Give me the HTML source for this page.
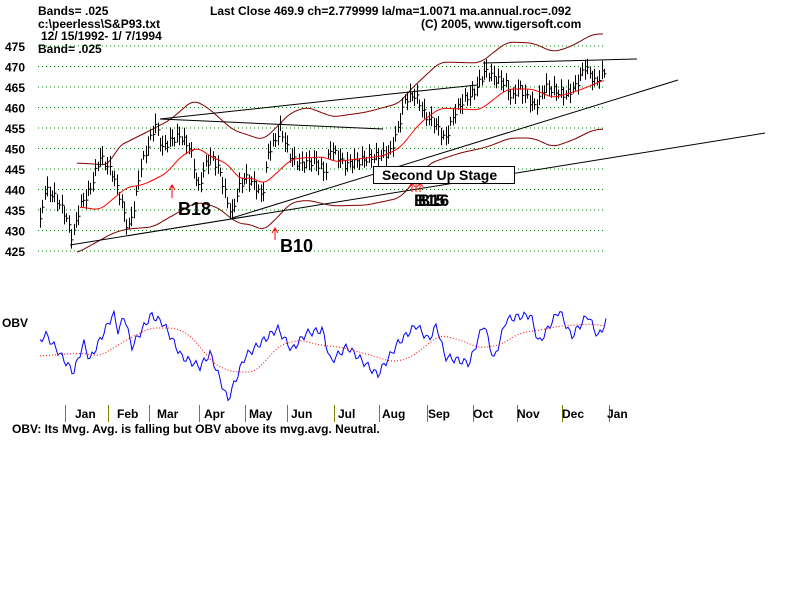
<!DOCTYPE html>
<html><head><meta charset="utf-8"><style>
html,body{margin:0;padding:0;background:#fff;width:800px;height:600px;overflow:hidden}
svg{display:block}
text{font-family:"Liberation Sans",sans-serif;font-weight:bold;fill:#000}
</style></head><body>
<svg id="s" width="800" height="600" xmlns="http://www.w3.org/2000/svg">
<g font-size="12">
<text x="38" y="15">Bands= .025</text>
<text x="210" y="15">Last Close 469.9 ch=2.779999  la/ma=1.0071 ma.annual.roc=.092</text>
<text x="38" y="28">c:\peerless\S&amp;P93.txt</text>
<text x="421" y="28">(C) 2005, www.tigersoft.com</text>
<text x="41" y="40">12/ 15/1992- 1/ 7/1994</text>
<text x="38" y="53">Band= .025</text>
</g>
<g id="grid"></g>
<g font-size="12" id="ylab"></g>
<g id="bands" fill="none" stroke="#800000" stroke-width="1"></g>
<g id="trend" stroke="#000" stroke-width="1"></g>
<g id="bars" stroke="#000" stroke-width="1"></g>
<g id="ma" fill="none" stroke="#f00" stroke-width="1"></g>
<g stroke="#f00" fill="none">
<path d="M172 198V185M169 190L172 185L175 190"/>
<path d="M275 240V228M272 233L275 228L278 233"/>
<path d="M412 192V183M416 192V183M420 192V183M409 187L412 183L415 187M417 187L420 183L423 187"/>
</g>
<text x="178" y="215" font-size="18">B18</text>
<text x="280" y="252" font-size="18">B10</text>
<text x="414" y="206" font-size="17">B15</text>
<text x="418" y="206" font-size="17">B16</text>
<rect x="373.5" y="166.5" width="141" height="17" fill="#fff" stroke="#000"/>
<text x="382" y="180" font-size="14" font-weight="normal">Second Up Stage</text>
<text x="2" y="327" font-size="12">OBV</text>
<g id="obv" fill="none"></g>
<g id="months" font-size="12"></g>
<text x="12" y="433" font-size="12">OBV: Its Mvg. Avg. is falling but OBV above its mvg.avg. Neutral.</text>
</svg>
<script>
var NS="http://www.w3.org/2000/svg";
function el(p,t,a,txt){var e=document.createElementNS(NS,t);for(var k in a)e.setAttribute(k,a[k]);if(txt!=null)e.textContent=txt;document.getElementById(p).appendChild(e);return e;}
function Y(p){return 46+(475-p)*4.1;}
for(var p=475;p>=425;p-=5){var y=Y(p);el("grid","line",{x1:38,x2:605,y1:y,y2:y,stroke:"#008000","stroke-dasharray":"1,3"});el("ylab","text",{x:5,y:y+5},String(p));}
function pl(g,pts,attrs){var d=pts.map(function(q){return q[0]+","+q[1]}).join(" ");attrs.points=d;el(g,"polyline",attrs);}
function smooth(a){var o=[];for(var x=a[0][0];x<=a[a.length-1][0];x+=2){var s=0,n=0;for(var k=-6;k<=6;k+=2){var xx=Math.min(Math.max(x+k,a[0][0]),a[a.length-1][0]);s+=interp(a,xx);n++;}o.push([x,(s/n).toFixed(1)]);}return o;}
function interp(a,x){for(var i=1;i<a.length;i++)if(x<=a[i][0]){var t=(x-a[i-1][0])/(a[i][0]-a[i-1][0]);return a[i-1][1]+t*(a[i][1]-a[i-1][1]);}return a[a.length-1][1];}
pl("bands",smooth([[77,163],[110,165],[117,147],[147,132],[170,120],[193,100],[207,107],[233,130],[263,140],[277,127],[290,113],[307,107],[333,117],[367,112],[400,103],[410,90],[440,62],[480,63],[507,42],[533,43],[553,52],[570,47],[593,34],[604,34]]),{});
pl("bands",smooth([[77,253],[113,233],[127,229],[153,227],[170,217],[197,202],[217,207],[237,223],[253,225],[263,231],[280,215],[290,203],[307,200],[333,206],[367,205],[400,198],[430,163],[460,153],[487,147],[510,138],[533,138],[553,147],[573,140],[593,130],[604,129]]),{});
var ma=[[80,207],[100,210],[127,187],[143,185],[167,173],[180,157],[197,147],[213,158],[227,163],[240,180],[253,177],[263,185],[280,170],[290,160],[300,158],[327,157],[333,162],[357,159],[383,156],[400,148],[420,123],[440,108],[480,110],[507,89],[533,89],[553,98],[580,90],[604,80]];
pl("ma",smooth(ma),{});
[[70,245,765,133],[232,218,678,80],[160,119,400,93],[400,93,477,85],[483,63,637,59],[160,119,383,129]].forEach(function(l){el("trend","line",{x1:l[0],y1:l[1],x2:l[2],y2:l[3]});});
var kp=[[40,432],[45,440],[55,438],[65,434],[72,428],[80,436],[90,440],[100,448],[112,444],[120,438],[128,430],[135,437],[140,445],[150,452],[155,456],[162,450],[170,452],[180,453],[190,450],[198,440],[205,446],[212,448],[220,444],[228,436],[232,434],[238,440],[245,443],[255,441],[262,438],[268,449],[275,452],[280,455],[290,448],[300,446],[315,447],[325,444],[330,450],[345,446],[360,447],[375,448],[390,449],[398,455],[405,462],[415,463],[425,458],[435,456],[445,452],[455,459],[465,462],[475,464],[485,469],[495,467],[505,466],[512,462],[518,465],[525,463],[535,460],[545,465],[555,464],[565,463],[575,465],[585,470],[595,466],[605,469]];
var d="";for(var x=40;x<=605;x+=2.4){var xi=Math.round(x)+0.5;var c=Y(interp(kp,x))+Math.sin(x*1.7)*4;var h=8+Math.abs(Math.sin(x*0.9))*12;var hi=c-h*0.55,lo=c+h*0.45;d+="M"+xi+" "+hi.toFixed(1)+"V"+lo.toFixed(1)+"M"+xi+" "+c.toFixed(1)+"h2";}
el("bars","path",{d:d});
var ob=[[97,160],[110,130],[180,248],[205,158],[220,210],[278,70],[290,125],[305,75],[322,172],[370,75],[400,100],[445,200],[490,230],[515,190],[558,330],[600,200],[680,115],[715,180],[750,130],[790,120],[810,215],[850,170],[925,255],[975,160],[1020,105],[1050,150],[1070,105],[1090,200],[1150,220],[1185,100],[1210,210],[1240,90],[1270,80],[1300,75],[1320,160],[1370,60],[1400,140],[1440,75],[1465,140],[1485,95]].map(function(q){return[q[0]/2.45,290+q[1]/3]});
var od=[];for(var x=40;x<=606;x+=2){od.push([x,(interp(ob,x)+Math.sin(x*2.3)*4).toFixed(1)]);}
pl("obv",od,{stroke:"#00f"});
var om=[[40,356],[80,353],[100,356],[130,338],[150,328],[175,328],[190,335],[215,365],[233,372],[255,372],[280,345],[300,340],[320,345],[345,348],[370,355],[393,362],[410,358],[440,335],[460,340],[480,348],[500,345],[520,333],[540,330],[560,326],[590,324],[606,326]];
pl("obv",smooth(om),{stroke:"#f00","stroke-dasharray":"1,2"});
[65,108,149,199,245,287,334,379,427,473,517,562,609].forEach(function(x){el("months","line",{x1:x+.5,x2:x+.5,y1:405,y2:422,stroke:"#808000"});});
[["Jan",75],["Feb",117],["Mar",157],["Apr",204],["May",249],["Jun",291],["Jul",338],["Aug",382],["Sep",428],["Oct",473],["Nov",517],["Dec",562],["Jan",607]].forEach(function(m){el("months","text",{x:m[1],y:418},m[0]);});
</script>
</body></html>
